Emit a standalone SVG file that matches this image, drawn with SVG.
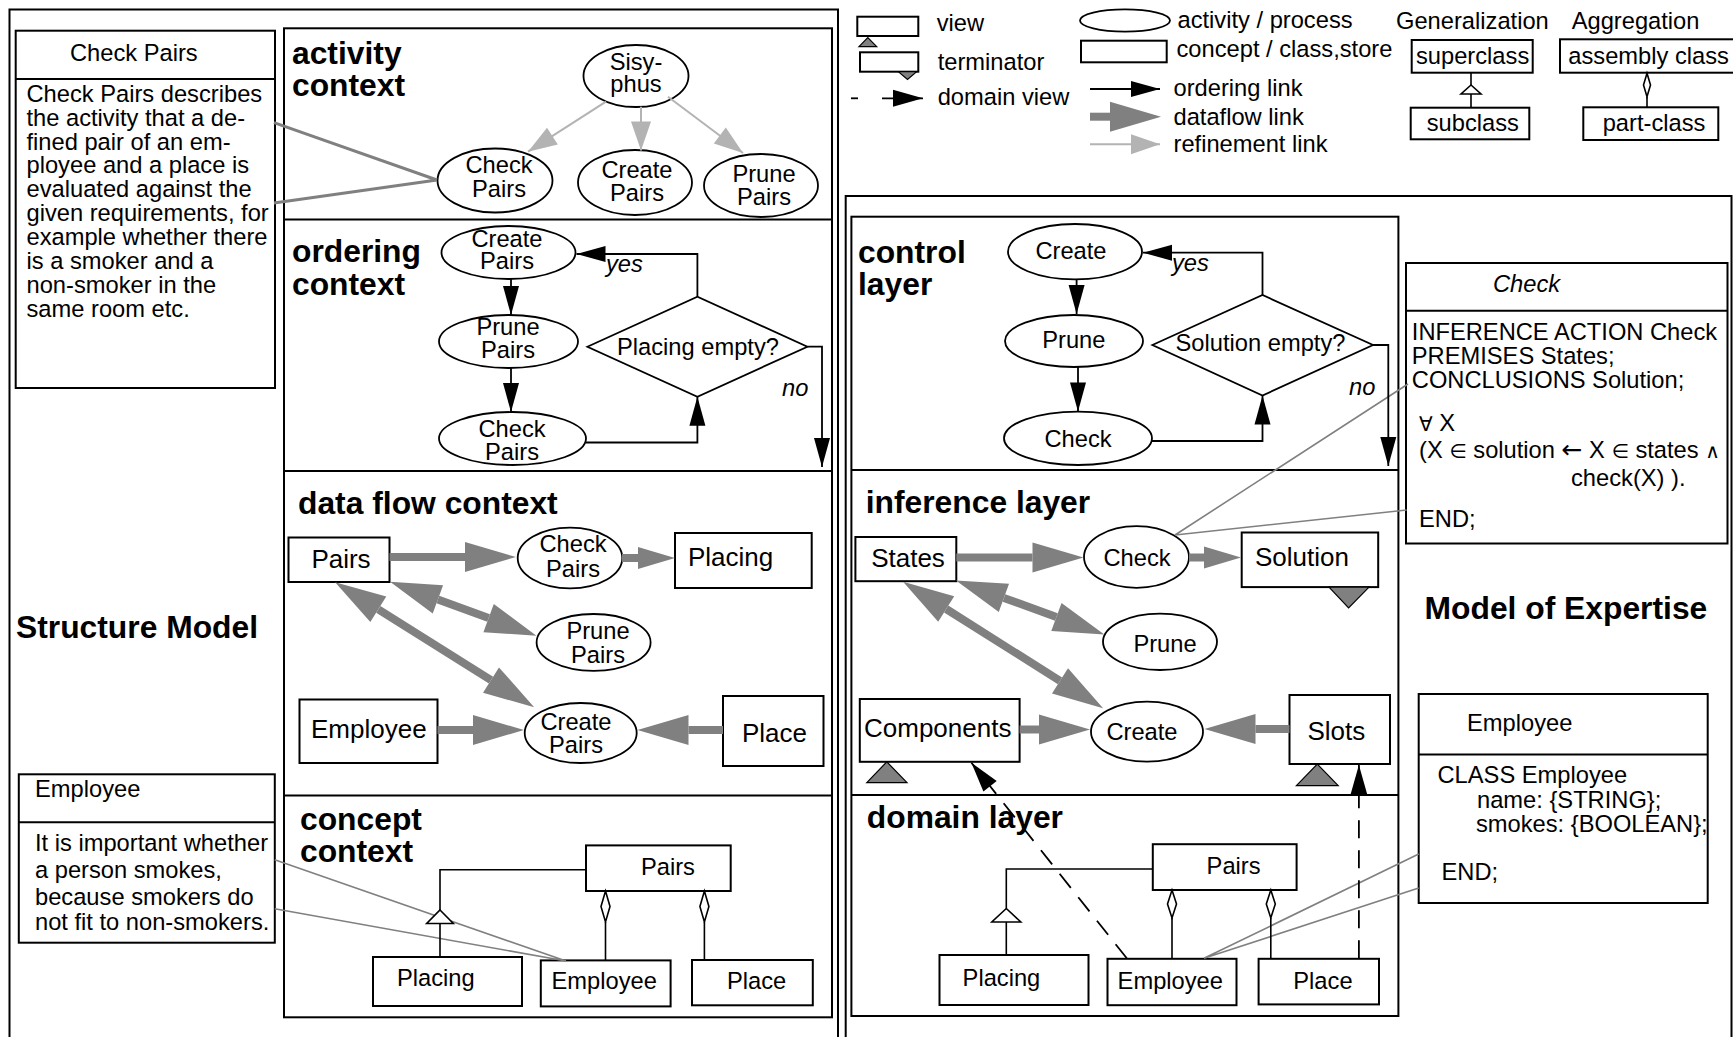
<svg xmlns="http://www.w3.org/2000/svg" width="1733" height="1037" viewBox="0 0 1733 1037">
<style>
text{font-family:"Liberation Sans",Arial,Helvetica,sans-serif;font-size:23.7px;fill:#000}
.b{font-weight:bold;font-size:31.8px}
.i{font-style:italic}
.lg{font-size:26px}
.m{text-anchor:middle}
.sym{font-family:"DejaVu Sans",sans-serif;font-size:20px}
.arr{font-family:"DejaVu Sans",sans-serif;font-size:25px}
.frame{fill:none;stroke:#000;stroke-width:2}
.box{fill:#fff;stroke:#000;stroke-width:2}
.el{fill:#fff;stroke:#000;stroke-width:1.8}
.ln{fill:none;stroke:#000;stroke-width:1.6}
.ord{fill:none;stroke:#000;stroke-width:1.8}
.df{fill:none;stroke:#808080;stroke-width:8}
.ref{fill:none;stroke:#b3b3b3;stroke-width:2}
.note{fill:none;stroke:#808080;stroke-width:1.6}
.note3{fill:none;stroke:#808080;stroke-width:3}
.dv{fill:none;stroke:#000;stroke-width:1.8;stroke-dasharray:18 12}
.vt{fill:#808080;stroke:#000;stroke-width:1.2}
.gen{fill:#fff;stroke:#000;stroke-width:1.6}
</style>
<defs>
<marker id="ah" markerUnits="userSpaceOnUse" markerWidth="30" markerHeight="16" refX="29" refY="8" orient="auto" overflow="visible"><path d="M0,0 L29,8 L0,16 z" fill="#000"/></marker>
<marker id="dvh" markerUnits="userSpaceOnUse" markerWidth="31" markerHeight="17" refX="30" refY="8.5" orient="auto" overflow="visible"><path d="M0,0 L30,8.5 L0,17 z" fill="#000"/></marker>
<marker id="dfh" markerUnits="userSpaceOnUse" markerWidth="52" markerHeight="30" refX="0" refY="15" orient="auto-start-reverse" overflow="visible"><path d="M0,0 L51,15 L0,30 z" fill="#808080"/></marker>
<marker id="dfs" markerUnits="userSpaceOnUse" markerWidth="38" markerHeight="22" refX="0" refY="11" orient="auto" overflow="visible"><path d="M0,0 L37,11 L0,22 z" fill="#808080"/></marker>
<marker id="rh" markerUnits="userSpaceOnUse" markerWidth="30" markerHeight="20" refX="29" refY="10" orient="auto" overflow="visible"><path d="M0,0 L29,10 L0,20 z" fill="#b3b3b3"/></marker>
</defs>
<rect width="1733" height="1037" fill="#fff"/>

<!-- frames -->
<g id="frames">
<path class="frame" d="M9.5,1040 V9.5 H838 V1040"/>
<path class="frame" d="M845.7,1040 V196 H1731.5 V1040"/>
<rect class="frame" x="284" y="28.3" width="548" height="989"/>
<path class="frame" d="M284,219.5 H832 M284,471 H832 M284,795.5 H832"/>
<rect class="frame" x="851.4" y="216.7" width="547" height="799.3"/>
<path class="frame" d="M851.4,470 H1398.4 M851.4,795 H1398.4"/>
</g>

<!-- legend -->
<g id="legend">
<rect class="box" x="857.3" y="16.7" width="61" height="19.3"/>
<polygon class="vt" points="859,46.7 876.7,46.7 867.8,37.7"/>
<text x="936.7" y="31">view</text>
<rect class="box" x="860" y="52.3" width="58.3" height="19.4"/>
<polygon class="vt" points="898.3,71.7 916.7,71.7 907.5,79.5"/>
<text x="937.7" y="69.5">terminator</text>
<path class="ord" d="M851,98.3 H858"/>
<path class="ord" d="M882,98.3 H923" marker-end="url(#dvh)"/>
<text x="937.7" y="105">domain view</text>
<ellipse class="el" cx="1125" cy="20.5" rx="45" ry="11.2"/>
<text x="1177.5" y="27.5">activity / process</text>
<rect class="box" x="1081" y="40.7" width="85.7" height="21.6"/>
<text x="1176.5" y="57">concept / class,store</text>
<path class="ord" d="M1090,89 H1160" marker-end="url(#ah)"/>
<text x="1173.5" y="95.5">ordering link</text>
<path class="df" d="M1090,116.7 H1110" marker-end="url(#dfh)"/>
<text x="1173.5" y="124.5">dataflow link</text>
<path class="ref" d="M1090,144.3 H1160" marker-end="url(#rh)"/>
<text x="1173.5" y="151.5">refinement link</text>
<text x="1396" y="28.5">Generalization</text>
<rect class="box" x="1411.7" y="40" width="121" height="32.7"/>
<text x="1416" y="64">superclass</text>
<path class="ln" d="M1471,72.7 V85 M1471,94 V107.7"/>
<polygon class="gen" points="1471,85 1481,94 1461,94"/>
<rect class="box" x="1410.7" y="107.7" width="118.6" height="31.6"/>
<text x="1426.7" y="131">subclass</text>
<text x="1571.7" y="28.5">Aggregation</text>
<rect class="box" x="1560" y="39.3" width="180" height="33.4"/>
<text x="1568.3" y="64">assembly class</text>
<path class="ln" d="M1647,96.7 V107.3"/>
<polygon class="gen" points="1647,73.3 1650.5,85 1647,96.7 1643.5,85"/>
<rect class="box" x="1583.3" y="107.3" width="135" height="32.7"/>
<text x="1602.7" y="131">part-class</text>
</g>

<!-- left: Structure Model -->
<g id="check-pairs-note">
<rect class="box" x="15.7" y="30.7" width="259.3" height="357.3"/>
<path class="frame" d="M15.7,79 H275"/>
<text x="70" y="61">Check Pairs</text>
<text x="26.5" y="101.7">Check Pairs describes</text>
<text x="26.5" y="125.6">the activity that a de-</text>
<text x="26.5" y="149.5">fined pair of an em-</text>
<text x="26.5" y="173.4">ployee and a place is</text>
<text x="26.5" y="197.3">evaluated against the</text>
<text x="26.5" y="221.2">given requirements, for</text>
<text x="26.5" y="245.1">example whether there</text>
<text x="26.5" y="269">is a smoker and a</text>
<text x="26.5" y="292.9">non-smoker in the</text>
<text x="26.5" y="316.8">same room etc.</text>
</g>
<g id="employee-note">
<rect class="box" x="18.8" y="774.3" width="256" height="168.4"/>
<path class="frame" d="M18.8,822.2 H274.8"/>
<text x="35" y="797">Employee</text>
<text x="35" y="851.3">It is important whether</text>
<text x="35" y="878">a person smokes,</text>
<text x="35" y="905">because smokers do</text>
<text x="35" y="930">not fit to non-smokers.</text>
</g>
<text class="b" x="16" y="638">Structure Model</text>

<g id="labels-left">
<text class="b" x="292" y="64">activity</text>
<text class="b" x="292" y="96">context</text>
<text class="b" x="292" y="262">ordering</text>
<text class="b" x="292" y="295">context</text>
<text class="b" x="298" y="514">data flow context</text>
<text class="b" x="300" y="830">concept</text>
<text class="b" x="300" y="862">context</text>
</g>

<!-- activity context -->
<g id="act-sisyphus"><ellipse class="el" cx="636" cy="76" rx="52.5" ry="31"/><text class="m" x="636" y="70">Sisy-</text><text class="m" x="636" y="92">phus</text></g>
<g id="act-check-pairs"><ellipse class="el" cx="495" cy="180.5" rx="57.5" ry="32"/><text class="m" x="499" y="173">Check</text><text class="m" x="499" y="196.5">Pairs</text></g>
<g id="act-create-pairs"><ellipse class="el" cx="635" cy="182.5" rx="57" ry="32.5"/><text class="m" x="637" y="177.5">Create</text><text class="m" x="637" y="200.5">Pairs</text></g>
<g id="act-prune-pairs"><ellipse class="el" cx="761" cy="185.5" rx="57" ry="31.5"/><text class="m" x="764" y="181.5">Prune</text><text class="m" x="764" y="204.5">Pairs</text></g>

<!-- ordering context -->
<g id="ord-create-pairs"><ellipse class="el" cx="508.5" cy="252.5" rx="67" ry="26.5"/><text class="m" x="507" y="246.5">Create</text><text class="m" x="507" y="269">Pairs</text></g>
<g id="ord-prune-pairs"><ellipse class="el" cx="508.5" cy="341.5" rx="69.5" ry="26.5"/><text class="m" x="508" y="334.5">Prune</text><text class="m" x="508" y="358">Pairs</text></g>
<g id="ord-check-pairs"><ellipse class="el" cx="512.5" cy="438.5" rx="73.5" ry="26.5"/><text class="m" x="512" y="436.5">Check</text><text class="m" x="512" y="460">Pairs</text></g>
<g id="ord-placing-empty"><polygon class="el" points="587.4,346.7 697.4,296.7 807.4,346.7 697.4,396.7"/><text class="m" x="698" y="355">Placing empty?</text></g>

<!-- data flow context -->
<g id="df-pairs"><rect class="box" x="288.5" y="537.5" width="101" height="44.5"/><text class="lg m" x="341" y="568">Pairs</text></g>
<g id="df-check-pairs"><ellipse class="el" cx="570" cy="558" rx="52.3" ry="30.4"/><text class="m" x="573" y="552">Check</text><text class="m" x="573" y="576.5">Pairs</text></g>
<g id="df-placing"><rect class="box" x="675" y="533" width="136.7" height="55"/><text class="lg" x="688" y="566">Placing</text></g>
<g id="df-prune-pairs"><ellipse class="el" cx="593.6" cy="642.4" rx="57" ry="28.4"/><text class="m" x="598" y="638.5">Prune</text><text class="m" x="598" y="662.5">Pairs</text></g>
<g id="df-employee"><rect class="box" x="299.5" y="699.5" width="138" height="63.5"/><text class="lg" x="311" y="738">Employee</text></g>
<g id="df-create-pairs"><ellipse class="el" cx="580.7" cy="733" rx="56" ry="30"/><text class="m" x="576" y="730">Create</text><text class="m" x="576" y="753">Pairs</text></g>
<g id="df-place"><rect class="box" x="723" y="696" width="100.5" height="70"/><text class="lg" x="742" y="742">Place</text></g>

<!-- concept context -->
<g id="cc-pairs"><rect class="box" x="586" y="845.4" width="144.7" height="45.6"/><text x="641" y="874.5">Pairs</text></g>
<g id="cc-placing"><rect class="box" x="373" y="957" width="149" height="49"/><text x="397" y="985.5">Placing</text></g>
<g id="cc-employee"><rect class="box" x="540.8" y="960.4" width="129.8" height="46"/><text x="551.5" y="988.5">Employee</text></g>
<g id="cc-place"><rect class="box" x="692" y="960" width="120.8" height="45.3"/><text x="727" y="988.5">Place</text></g>

<!-- right: Model of Expertise -->
<text class="b" x="1424.6" y="619">Model of Expertise</text>
<g id="labels-right">
<text class="b" x="858" y="263">control</text>
<text class="b" x="858" y="295">layer</text>
<text class="b" x="865.7" y="513">inference layer</text>
<text class="b" x="866.8" y="828">domain layer</text>
</g>

<g id="check-def">
<rect class="box" x="1406" y="263" width="321.5" height="280.5"/>
<path class="frame" d="M1406,310.7 H1727.5"/>
<text class="i" x="1493" y="292">Check</text>
<text x="1411.8" y="340">INFERENCE ACTION Check</text>
<text x="1411.8" y="364">PREMISES States;</text>
<text x="1411.8" y="388">CONCLUSIONS Solution;</text>
<text x="1419" y="430.5"><tspan class="sym">∀</tspan> X</text>
<text x="1419" y="458.3">(X <tspan class="sym">∈</tspan> solution <tspan class="arr">←</tspan> X <tspan class="sym">∈</tspan> states <tspan class="sym">∧</tspan></text>
<text x="1571" y="486">check(X) ).</text>
<text x="1419" y="526.5">END;</text>
</g>
<g id="employee-def">
<rect class="box" x="1418.7" y="694" width="289" height="209"/>
<path class="frame" d="M1418.7,754.5 H1707.7"/>
<text x="1467" y="731">Employee</text>
<text x="1437.5" y="783">CLASS Employee</text>
<text x="1477" y="807.5">name: {STRING};</text>
<text x="1476" y="832">smokes: {BOOLEAN};</text>
<text x="1441.5" y="880">END;</text>
</g>

<!-- control layer -->
<g id="cl-create"><ellipse class="el" cx="1075" cy="251.7" rx="67" ry="27.7"/><text class="m" x="1071" y="259">Create</text></g>
<g id="cl-prune"><ellipse class="el" cx="1074" cy="341" rx="69" ry="26"/><text class="m" x="1073.8" y="348">Prune</text></g>
<g id="cl-check"><ellipse class="el" cx="1078" cy="438.3" rx="74" ry="26.7"/><text class="m" x="1078" y="447">Check</text></g>
<g id="cl-solution-empty"><polygon class="el" points="1152.4,345 1262.5,295 1373,345 1262.5,395.5"/><text class="m" x="1260.5" y="351">Solution empty?</text></g>

<!-- inference layer -->
<g id="il-states"><rect class="box" x="855.4" y="537" width="100.9" height="44.2"/><text class="lg m" x="908" y="567">States</text></g>
<g id="il-check"><ellipse class="el" cx="1136.5" cy="557" rx="52.5" ry="30.8"/><text class="m" x="1137" y="565.5">Check</text></g>
<g id="il-solution"><rect class="box" x="1241.7" y="532.5" width="136.5" height="54.6"/><polygon class="vt" points="1329,587.1 1369,587.1 1348.6,608"/><text class="lg" x="1255" y="566">Solution</text></g>
<g id="il-prune"><ellipse class="el" cx="1160" cy="641.8" rx="57" ry="28.2"/><text class="m" x="1165" y="651.5">Prune</text></g>
<g id="il-components"><rect class="box" x="859.8" y="699" width="159.8" height="62.8"/><polygon class="vt" points="866.8,782.7 907,782.7 886.8,761.8"/><text class="lg" x="864" y="737">Components</text></g>
<g id="il-create"><ellipse class="el" cx="1147" cy="731.7" rx="56" ry="30"/><text class="m" x="1142" y="740">Create</text></g>
<g id="il-slots"><rect class="box" x="1289.5" y="695" width="100.5" height="69"/><polygon class="vt" points="1296.4,785.7 1338.2,785.7 1317.3,764"/><text class="lg" x="1307.5" y="740">Slots</text></g>

<!-- domain layer -->
<g id="dl-pairs"><rect class="box" x="1152.8" y="844.2" width="143.8" height="45.8"/><text x="1206.6" y="874">Pairs</text></g>
<g id="dl-placing"><rect class="box" x="939.5" y="955" width="149" height="50"/><text x="962.6" y="985.5">Placing</text></g>
<g id="dl-employee"><rect class="box" x="1107.5" y="958.8" width="129" height="46.4"/><text x="1117.6" y="988.7">Employee</text></g>
<g id="dl-place"><rect class="box" x="1258.6" y="958.8" width="120.4" height="45.6"/><text x="1293.3" y="988.7">Place</text></g>

<!-- connectors -->
<g id="connectors">
<path class="note3" d="M274,122.7 L437,180 M274,203 L437,180"/>
<path class="note" d="M274.7,859.8 L566,961 M274.7,908.8 L566,961"/>
<path class="note" d="M1408,384 L1175,535 M1406.7,510 L1175,535"/>
<path class="note" d="M1418.7,854 L1204,958.3 M1418.7,888 L1204,958.3"/>
<path class="ref" d="M606,101.7 L528,151.7" marker-end="url(#rh)"/>
<path class="ref" d="M641,106.7 L641,150.5" marker-end="url(#rh)"/>
<path class="ref" d="M668,96.7 L743,153" marker-end="url(#rh)"/>
<path class="ord" d="M511,279 V315" marker-end="url(#ah)"/>
<path class="ord" d="M511,368 V412" marker-end="url(#ah)"/>
<path class="ord" d="M585.5,442.5 H697.4 V396.7" marker-end="url(#ah)"/>
<path class="ord" d="M697.4,296.7 V254 H576.5" marker-end="url(#ah)"/>
<path class="ord" d="M807.4,346.7 H822 V467" marker-end="url(#ah)"/>
<text class="i" x="606" y="272">yes</text>
<text class="i" x="782" y="396">no</text>
<path class="ord" d="M1076.6,279.4 V314" marker-end="url(#ah)"/>
<path class="ord" d="M1078,367 V411.5" marker-end="url(#ah)"/>
<path class="ord" d="M1152,441 H1262.5 V395.5" marker-end="url(#ah)"/>
<path class="ord" d="M1262.5,295 V252.7 H1143" marker-end="url(#ah)"/>
<path class="ord" d="M1373,345 H1388.3 V466" marker-end="url(#ah)"/>
<text class="i" x="1172" y="271">yes</text>
<text class="i" x="1349" y="395">no</text>
<path class="df" d="M389.5,557 H465" marker-end="url(#dfh)"/>
<path class="df" d="M622,558 H638" marker-end="url(#dfs)"/>
<path class="df" d="M437.9,599.4 L488.6,618.1" marker-start="url(#dfh)" marker-end="url(#dfh)"/>
<path class="df" d="M378.3,609.3 L491,680.1" marker-start="url(#dfh)" marker-end="url(#dfh)"/>
<path class="df" d="M437.5,730 H473" marker-end="url(#dfh)"/>
<path class="df" d="M723,730 H688.5" marker-end="url(#dfh)"/>
<path class="df" d="M956.3,557.5 H1032.5" marker-end="url(#dfh)"/>
<path class="df" d="M1189,557.5 H1204" marker-end="url(#dfs)"/>
<path class="df" d="M1003.9,597.9 L1056.4,617" marker-start="url(#dfh)" marker-end="url(#dfh)"/>
<path class="df" d="M946.2,609 L1060,680.9" marker-start="url(#dfh)" marker-end="url(#dfh)"/>
<path class="df" d="M1019.6,729.5 H1039" marker-end="url(#dfh)"/>
<path class="df" d="M1289.5,729 H1255.5" marker-end="url(#dfh)"/>
<path class="ln" d="M586,869.7 H440 V910 M440,923.5 V957"/>
<polygon class="gen" points="440,910 453.3,923.5 426.7,923.5"/>
<path class="ln" d="M605.5,922 V960.4 M704.4,922 V960"/>
<polygon class="gen" points="605.5,891 610,906.5 605.5,922 601,906.5"/>
<polygon class="gen" points="704.4,891 708.9,906.5 704.4,922 699.9,906.5"/>
<path class="ln" d="M1152.8,869 H1006.3 V908.5 M1006.3,922 V955"/>
<polygon class="gen" points="1006.3,908.5 1020.8,922 991.8,922"/>
<path class="ln" d="M1172,918 V958.8 M1270.8,918 V958.8"/>
<polygon class="gen" points="1172,890 1176.5,904 1172,918 1167.5,904"/>
<polygon class="gen" points="1270.8,890 1275.3,904 1270.8,918 1266.3,904"/>
<path class="dv" d="M1126.8,958.3 L971.4,762.7" marker-end="url(#dvh)"/>
<path class="dv" d="M1358.9,958.3 V765" marker-end="url(#dvh)"/>
</g>
</svg>
